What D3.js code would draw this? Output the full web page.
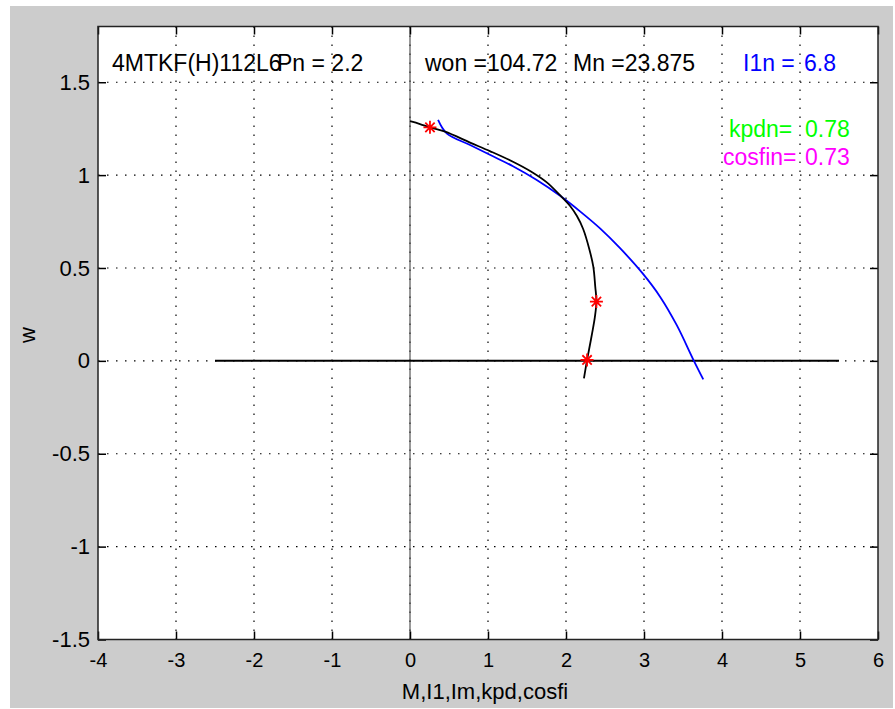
<!DOCTYPE html>
<html><head><meta charset="utf-8">
<script src="https://cdn.jsdelivr.net/npm/d3@7"></script>
<style>body{margin:0;background:#fff}svg{display:block}text{font-family:"Liberation Sans",Arial,sans-serif}</style>
</head><body><svg id="c" width="895" height="709"></svg>
<script>
// ---- data ----
const xTicks = [-4,-3,-2,-1,0,1,2,3,4,5,6];
const yTicks = [-1.5,-1,-0.5,0,0.5,1,1.5];
const blackM = [0,0.128,0.256,0.45,0.77,1.03,1.32,1.54,1.75,1.92,2.05,2.14,2.22,2.30,2.35,2.375,2.39,2.37,2.335,2.295,2.27,2.23];
const blackW = [1.29,1.275,1.257,1.234,1.175,1.128,1.072,1.022,0.962,0.893,0.835,0.78,0.71,0.60,0.507,0.40,0.319,0.235,0.149,0.06,0.005,-0.094];
const blueI = [0.36,0.47,0.77,1.03,1.32,1.62,1.92,2.18,2.44,2.69,2.98,3.21,3.42,3.64,3.76];
const blueW = [1.297,1.225,1.162,1.108,1.048,0.975,0.89,0.805,0.712,0.608,0.472,0.343,0.192,0.0,-0.1];
const starX = [0.256,2.39,2.27];
const starY = [1.257,0.319,0.005];
const zeroLineX = [-2.5,5.5];
const header = ["4MTKF(H)112L6","Pn = 2.2","won =104.72","Mn =23.875"];
const i1Label = ["I1n =","6.8"];
const kpdLabel = ["kpdn=","0.78"];
const cosLabel = ["cosfin=","0.73"];

const svg = d3.select("#c");
svg.append("rect").attr("x",10).attr("y",6).attr("width",883).attr("height",702).attr("fill","#cccccc");

const L=98,R=878,T=26.5,B=639.5;
const x = d3.scaleLinear().domain([-4,6]).range([L,R]);
const y = d3.scaleLinear().domain([-1.5,1.8]).range([B,T]);

svg.append("rect").attr("x",L).attr("y",T).attr("width",R-L).attr("height",B-T).attr("fill","#fff");

svg.append("defs").append("clipPath").attr("id","cl").append("rect")
  .attr("x",L).attr("y",T).attr("width",R-L).attr("height",B-T);

const g = svg.append("g").attr("clip-path","url(#cl)");
// grid
g.selectAll(".gx").data(xTicks.slice(1,-1)).join("line")
  .attr("x1",d=>x(d)).attr("x2",d=>x(d)).attr("y1",T).attr("y2",B)
  .attr("stroke","#000").attr("stroke-width",1.2).attr("stroke-dasharray","1.5,7.5");
g.selectAll(".gy").data(yTicks.slice(1)).join("line")
  .attr("y1",d=>y(d)).attr("y2",d=>y(d)).attr("x1",L).attr("x2",R)
  .attr("stroke","#000").attr("stroke-width",1.2).attr("stroke-dasharray","1.5,7.5");

// x=0 line
g.append("line").attr("x1",x(0)).attr("x2",x(0)).attr("y1",T).attr("y2",B)
  .attr("stroke","#555").attr("stroke-width",1.2);
// y=0 line
g.append("line").attr("x1",x(zeroLineX[0])).attr("x2",x(zeroLineX[1])).attr("y1",y(0)).attr("y2",y(0))
  .attr("stroke","#000").attr("stroke-width",2);

const line = d3.line().x(d=>x(d[0])).y(d=>y(d[1])).curve(d3.curveCatmullRom.alpha(0.5));
g.append("path").attr("d",line(blueI.map((v,i)=>[v,blueW[i]])))
  .attr("fill","none").attr("stroke","#0000ff").attr("stroke-width",1.8);
g.append("path").attr("d",line(blackM.map((v,i)=>[v,blackW[i]])))
  .attr("fill","none").attr("stroke","#000").attr("stroke-width",1.8);

// stars
const r=6.5, r2=r*0.72;
const starPath = `M${-r},0L${r},0M0,${-r}L0,${r}M${-r2},${-r2}L${r2},${r2}M${-r2},${r2}L${r2},${-r2}`;
g.selectAll(".st").data(starX).join("path")
  .attr("transform",(d,i)=>`translate(${x(d)},${y(starY[i])})`)
  .attr("d",starPath).attr("stroke","#ff0000").attr("stroke-width",1.8).attr("fill","none");

// axes
const fmt = d=>String(d);
const ax = svg.append("g").attr("transform",`translate(0,${B})`)
  .call(d3.axisBottom(x).tickValues(xTicks).tickSize(-8).tickPadding(13).tickFormat(fmt));
const ay = svg.append("g").attr("transform",`translate(${L},0)`)
  .call(d3.axisLeft(y).tickValues(yTicks).tickSize(-8).tickPadding(8).tickFormat(fmt));
const axT = svg.append("g").attr("transform",`translate(0,${T})`)
  .call(d3.axisTop(x).tickValues(xTicks).tickSize(-8).tickFormat(""));
const ayR = svg.append("g").attr("transform",`translate(${R},0)`)
  .call(d3.axisRight(y).tickValues(yTicks).tickSize(-8).tickFormat(""));
[ax,ay,axT,ayR].forEach(a=>{a.select(".domain").remove();a.selectAll("line").attr("stroke","#000").attr("stroke-width",1.5);});
ax.selectAll("text").attr("font-size",20).attr("fill","#000").style("font-family",'"Liberation Sans",Arial,sans-serif');
ay.selectAll("text").attr("font-size",22).attr("fill","#000").style("font-family",'"Liberation Sans",Arial,sans-serif');

svg.append("rect").attr("x",L).attr("y",T).attr("width",R-L).attr("height",B-T)
  .attr("fill","none").attr("stroke","#222").attr("stroke-width",1.5);

// labels
svg.append("text").attr("x",485).attr("y",699).attr("text-anchor","middle").attr("font-size",22).text("M,I1,Im,kpd,cosfi");
svg.append("text").attr("transform","translate(35,335) rotate(-90)").attr("text-anchor","middle").attr("font-size",22).text("w");

// annotations
const tb = 71;
svg.append("text").attr("x",112).attr("y",tb).attr("font-size",23).text(header[0]);
svg.append("text").attr("x",277).attr("y",tb).attr("font-size",23).text(header[1]);
svg.append("text").attr("x",425).attr("y",tb).attr("font-size",23).text(header[2]);
svg.append("text").attr("x",573).attr("y",tb).attr("font-size",23).text(header[3]);
svg.append("text").attr("x",743).attr("y",tb).attr("font-size",23).attr("fill","#0000ff").text(i1Label[0]);
svg.append("text").attr("x",804).attr("y",tb).attr("font-size",23).attr("fill","#0000ff").text(i1Label[1]);
svg.append("text").attr("x",729).attr("y",137).attr("font-size",23).attr("fill","#00ff00").text(kpdLabel[0]);
svg.append("text").attr("x",805).attr("y",137).attr("font-size",23).attr("fill","#00ff00").text(kpdLabel[1]);
svg.append("text").attr("x",723).attr("y",165).attr("font-size",23).attr("fill","#ff00ff").text(cosLabel[0]);
svg.append("text").attr("x",805).attr("y",165).attr("font-size",23).attr("fill","#ff00ff").text(cosLabel[1]);
</script></body></html>
